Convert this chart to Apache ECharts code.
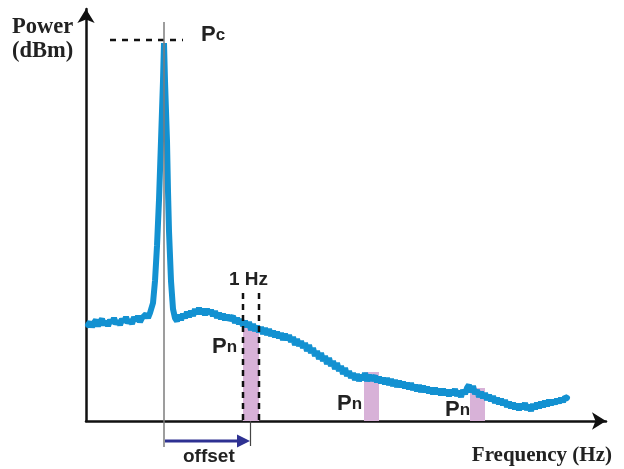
<!DOCTYPE html>
<html>
<head>
<meta charset="utf-8">
<script src="https://cdn.jsdelivr.net/npm/echarts@6/dist/echarts.min.js"></script>
<style>
html,body{margin:0;padding:0;background:#fff;}
#chart{width:624px;height:469px;}
</style>
</head>
<body>
<div id="chart"></div>
<script>
// ---- data (arbitrary schematic units: [frequency, power]) ----
const spectrum = [
  [2,96],[4,99],[6,94],[8,98],[10,101],[12,95],[14,99],[16,102],[18,96],[20,100],
  [22,95],[24,101],[26,98],[28,103],[30,97],[32,100],[34,96],[36,102],[38,99],[40,104],
  [42,98],[44,101],[46,97],[48,104],[50,100],[52,105],[54,99],[56,103],[58,101],[60,107],[62,103],
  [64,108],[67,118],[69,140],[71,175],[73,221],[75,280],[77,340],[78,378],[79,340],[81,280],
  [82,230],[83,190],[85,140],[87,112],[89,103],
  [91,100],[93,106],[95,101],[97,107],[99,103],[101,109],[103,104],[105,110],[107,105],[109,112],
  [111,107],[113,113],[115,107],[117,112],[119,106],[121,112],[123,107],[125,111],[127,105],[129,110],
  [131,103],[133,108],[135,102],[137,107],[139,101],[141,106],[143,101],[145,99],[147,105],[149,98],
  [151,103],[153,97],[155,102],[157,95],[159,100],[161,94],[163,99],[165,91],[167,97],[169,90],
  [171,95],[173,89],[175,94],[177,87],[179,93],[181,86],[183,92],[185,85],[187,90],[189,84],
  [191,89],[193,83],[195,88],[197,81],[199,87],[201,81],[203,86],[205,79],[207,84],[209,76],
  [211,82],[213,75],[215,80],[217,73],[219,78],[221,70],[223,76],[225,68],[227,73],[229,65],
  [231,70],[233,62],[235,68],[237,60],[239,65],[241,57],[243,63],[245,55],[247,60],[249,52],
  [251,58],[253,50],[255,55],[257,47],[259,53],[261,45],[263,50],[265,43],[267,48],[269,41],
  [271,47],[273,40],[275,46],[277,41],[279,48],[281,40],[283,46],[285,41],[287,39],[289,45],
  [291,39],[293,44],[295,38],[297,43],[299,37],[301,43],[303,36],[305,42],[307,35],[309,41],
  [311,34],[313,40],[315,34],[317,39],[319,33],[321,38],[323,32],[325,38],[327,31],[329,36],
  [331,30],[333,36],[335,29],[337,35],[339,29],[341,34],[343,28],[345,33],[347,27],[349,33],
  [351,27],[353,32],[355,26],[357,32],[359,26],[361,31],[363,25],[365,31],[367,26],[369,32],
  [371,25],[373,30],[375,24],[377,31],[379,27],[381,33],[383,36],[385,29],[387,35],[389,27],
  [391,31],[393,24],[395,29],[397,23],[399,28],[401,21],[403,26],[405,20],[407,25],[409,18],
  [411,23],[413,17],[415,22],[417,16],[419,21],[421,14],[423,19],[425,13],[427,18],[429,12],
  [431,17],[433,11],[435,17],[437,12],[439,18],[441,11],[443,16],[445,10],[447,17],[449,12],
  [451,18],[453,13],[455,19],[457,14],[459,20],[461,15],[463,21],[465,16],[467,21],[469,17],
  [471,22],[473,18],[475,23],[477,19],[479,24],[481,23]
];
// 1 Hz noise bands (Pn)
const bandStart = [157, 278, 384];
const bandEnd   = [173, 293, 399];
const bandTop   = [95, 49, 33];
// carrier / guides
const carrierFreq = 78;
const carrierLevel = 381;
const pcLineFrom = 24, pcLineTo = 97;
const carrierLineTop = 399, carrierLineBottom = -26;
const hzMarkerTop = 128;
const offsetLevel = -20;
const offsetEnd = 164;
const offsetTickTop = 0, offsetTickBottom = -25;
const xMax = 520, yMax = 412;

const chart = echarts.init(document.getElementById('chart'), null, {renderer: 'canvas'});

const bandData = bandStart.map((s, i) => [s, bandEnd[i], bandTop[i]]);

function renderBand(params, api) {
  const p0 = api.coord([api.value(0), api.value(2)]);
  const p1 = api.coord([api.value(1), 0]);
  return {
    type: 'rect',
    shape: {x: p0[0], y: p0[1], width: p1[0] - p0[0], height: p1[1] - p0[1]},
    style: {fill: '#d8b2d8'}
  };
}

function renderGuides(params, api) {
  const c = (x, y) => api.coord([x, y]);
  const g0 = c(carrierFreq, carrierLineTop), g1 = c(carrierFreq, carrierLineBottom);
  const pc0 = c(pcLineFrom, carrierLevel), pc1 = c(pcLineTo, carrierLevel);
  const h0a = c(bandStart[0], hzMarkerTop), h0b = c(bandStart[0], 0);
  const h1a = c(bandEnd[0], hzMarkerTop), h1b = c(bandEnd[0], 0);
  const o0 = c(carrierFreq + 1, offsetLevel), o1 = c(offsetEnd, offsetLevel);
  const t0 = c(offsetEnd + 0.5, offsetTickTop), t1 = c(offsetEnd + 0.5, offsetTickBottom);
  const dash = {stroke: '#111', lineWidth: 2.5, lineDash: [6, 5]};
  const headLen = 13, headHalf = 6.5;
  return {
    type: 'group',
    children: [
      {type: 'line', shape: {x1: pc0[0], y1: pc0[1], x2: pc1[0], y2: pc1[1]}, style: Object.assign({}, dash, {lineDash: [6, 6]})},
      {type: 'line', shape: {x1: h0a[0], y1: h0a[1], x2: h0b[0], y2: h0b[1]}, style: dash},
      {type: 'line', shape: {x1: h1a[0], y1: h1a[1], x2: h1b[0], y2: h1b[1]}, style: dash},
      {type: 'line', shape: {x1: g0[0], y1: g0[1], x2: g1[0], y2: g1[1]}, style: {stroke: '#7d7d7d', lineWidth: 1.5}},
      {type: 'line', shape: {x1: t0[0], y1: t0[1], x2: t1[0], y2: t1[1]}, style: {stroke: '#444', lineWidth: 1.2}},
      {type: 'line', shape: {x1: o0[0], y1: o0[1], x2: o1[0] - headLen + 1, y2: o1[1]}, style: {stroke: '#2e3192', lineWidth: 3}},
      {type: 'polygon', shape: {points: [[o1[0], o1[1]], [o1[0] - headLen, o1[1] - headHalf], [o1[0] - headLen, o1[1] + headHalf]]}, style: {fill: '#2e3192'}}
    ]
  };
}

const sans = 'Liberation Sans, Arial, sans-serif';
const serif = 'Liberation Serif, Times New Roman, serif';
const pRich = {P: {fontSize: 22, fontWeight: 'bold', fontFamily: sans, fill: '#222'}, s: {fontSize: 17, fontWeight: 'bold', fontFamily: sans, fill: '#222'}};

function label(left, y, sub) {
  return {type: 'text', left: left, top: y - 12, style: {text: '{P|P}{s|' + sub + '}', rich: pRich}};
}

chart.setOption({
  animation: false,
  backgroundColor: '#fff',
  grid: {left: 86, right: 624 - 86 - xMax, top: 9, bottom: 48},
  xAxis: {
    type: 'value', min: 0, max: xMax,
    axisLine: {show: true, onZero: false, symbol: ['none', 'arrow'], symbolSize: [13, 14], lineStyle: {color: '#111', width: 2.5}},
    axisTick: {show: false}, axisLabel: {show: false}, splitLine: {show: false}
  },
  yAxis: {
    type: 'value', min: 0, max: yMax,
    axisLine: {show: true, onZero: false, symbol: ['none', 'arrow'], symbolSize: [13, 14], lineStyle: {color: '#111', width: 2.5}},
    axisTick: {show: false}, axisLabel: {show: false}, splitLine: {show: false}
  },
  series: [
    {type: 'custom', name: 'Pn bands', renderItem: renderBand, data: bandData, z: 1, clip: false},
    {type: 'line', name: 'spectrum', data: spectrum, showSymbol: false, symbol: 'none', z: 2,
     lineStyle: {color: '#1391d1', width: 6, join: 'bevel', cap: 'round'}},
    {type: 'custom', name: 'guides', renderItem: renderGuides, data: [[0, 0]], z: 3, clip: false}
  ],
  graphic: [
    {type: 'text', left: 12, top: 16, style: {text: 'Power', font: 'bold 22.5px ' + serif, fill: '#222'}},
    {type: 'text', left: 12, top: 40, style: {text: '(dBm)', font: 'bold 22.5px ' + serif, fill: '#222'}},
    {type: 'text', right: 12, top: 445, style: {text: 'Frequency (Hz)', font: 'bold 21px ' + serif, fill: '#222'}},
    {type: 'text', left: 183, top: 447, style: {text: 'offset', font: 'bold 19px ' + sans, fill: '#222'}},
    {type: 'text', left: 229, top: 270, style: {text: '1 Hz', font: 'bold 19px ' + sans, fill: '#222'}},
    label(201, 36, 'c'),
    label(212, 348, 'n'),
    label(337, 405, 'n'),
    label(445, 411, 'n')
  ]
});
</script>
</body>
</html>
